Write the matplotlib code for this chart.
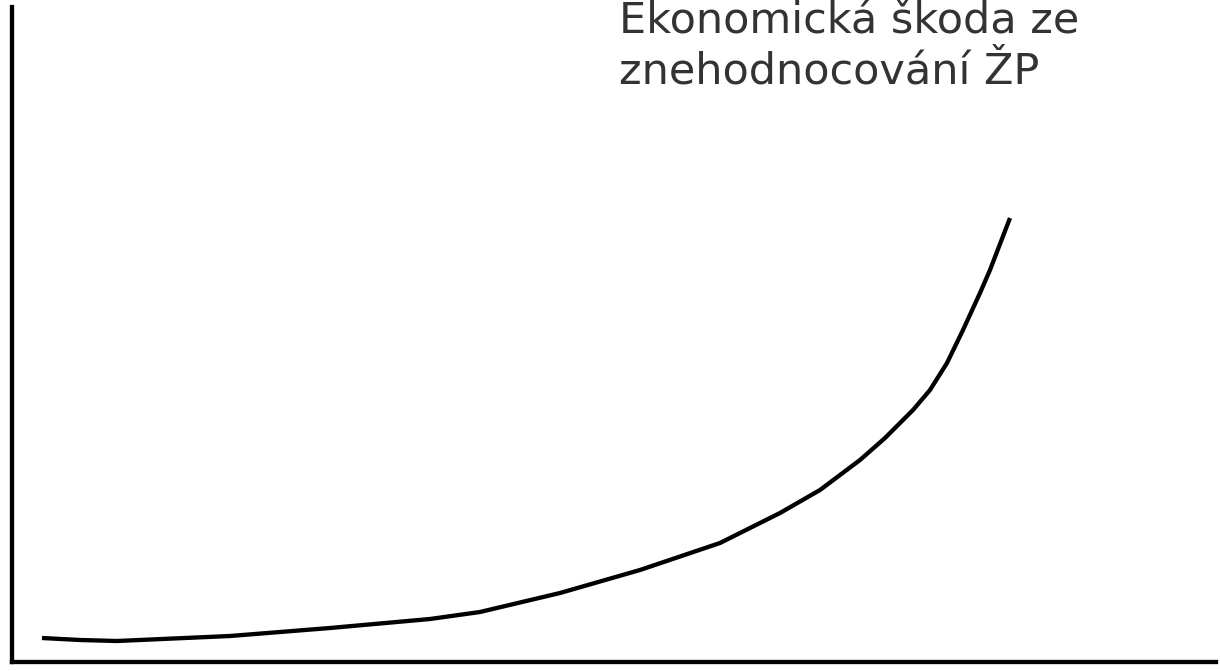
import numpy as np
import matplotlib
matplotlib.use('Agg')
from matplotlib import pyplot as plt

# curve (x from the left axis, y above the bottom axis)
x = [30, 68, 105, 218, 318, 418, 468, 548, 628, 708, 768, 808, 848, 873,
     901, 918, 935, 951, 968, 978, 998]
y = [24, 22, 21, 26, 34, 43, 50, 69, 92, 119, 149, 172, 202, 224,
     252, 272, 299, 332, 369, 392, 444]

label_lines = ['Ekonomická škoda ze', 'znehodnocování ŽP']

W, H = 1220, 671
fig = plt.figure(figsize=(W / 100, H / 100), dpi=100)
ax = fig.add_axes([12 / W, (H - 662) / H, (1216 - 12) / W, (662 - 7) / H])

ax.plot(x, y, color='black', lw=3.1, solid_capstyle='butt',
        solid_joinstyle='round')
ax.set_xlim(0, 1204)
ax.set_ylim(0, 655)

for s in ['top', 'right']:
    ax.spines[s].set_visible(False)
for s in ['left', 'bottom']:
    ax.spines[s].set_linewidth(3.1)
    ax.spines[s].set_color('black')
ax.set_xticks([])
ax.set_yticks([])

fig.text(619 / W, 1 - 33 / H, label_lines[0], fontsize=31, color='#333333',
         va='baseline', ha='left')
fig.text(619 / W, 1 - 83 / H, label_lines[1], fontsize=31, color='#333333',
         va='baseline', ha='left')

fig.savefig('out.png', dpi=100)
